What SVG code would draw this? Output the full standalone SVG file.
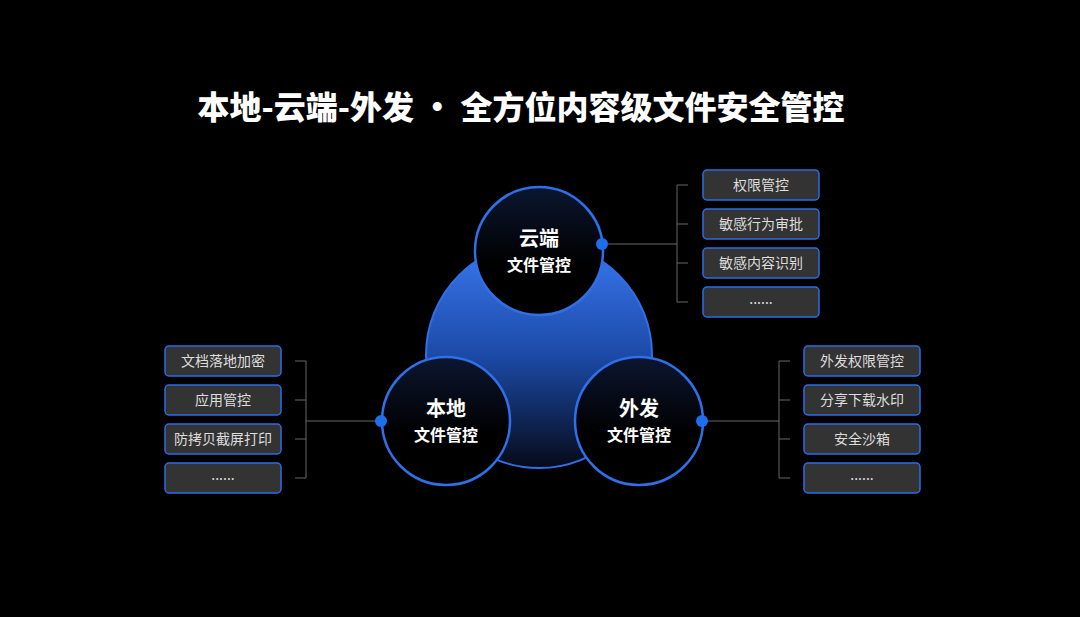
<svg xmlns="http://www.w3.org/2000/svg" width="1080" height="617" viewBox="0 0 1080 617">
<defs>
<linearGradient id="g" x1="0" y1="0" x2="0" y2="1"><stop offset="0" stop-color="#3a78f0"/><stop offset="0.5" stop-color="#1c4aa8"/><stop offset="1" stop-color="#060a18"/></linearGradient>
<linearGradient id="c" x1="0" y1="0" x2="0" y2="1"><stop offset="0" stop-color="#0b1630"/><stop offset="0.6" stop-color="#000"/><stop offset="1" stop-color="#000"/></linearGradient>
<style>
.t{font-family:"Noto Sans CJK SC","Noto Sans",sans-serif;fill:#fff;text-anchor:middle}
.b rect{fill:#333;stroke:#2a6ee8;stroke-width:1.5}
.b text{font-family:"Noto Sans CJK SC","Noto Sans",sans-serif;fill:#ddd;font-size:14px;text-anchor:middle}
.ln{stroke:#666;stroke-width:1;fill:none}
.n circle.o{fill:url(#c);stroke:#2f6fe8;stroke-width:2.5}
.d{fill:#1e6ff0}
</style>
</defs>
<rect width="1080" height="617" fill="#000"/>
<text x="521" y="119" class="t" font-size="32" font-weight="900">本地-云端-外发 · 全方位内容级文件安全管控</text>
<circle cx="539" cy="355" r="113" fill="url(#g)" stroke="#2f6fe8" stroke-width="2"/>
<g id="connectors">
<path class="ln" d="M602 244H677M688 185H677V302H688M677 224H688M677 263H688"/>
<path class="ln" d="M702 421H779M790 361H779V478H790M779 400H790M779 439H790"/>
<path class="ln" d="M381 421H306M295 361H306V478H295M306 400H295M306 439H295"/>
</g>
<g id="cloud" class="n"><circle class="o" cx="539" cy="251" r="64"/><text class="t" x="539" y="246" font-size="20" font-weight="bold">云端</text><text class="t" x="539" y="271" font-size="16" font-weight="bold">文件管控</text><circle class="d" cx="602" cy="244" r="6"/></g>
<g id="local" class="n"><circle class="o" cx="446" cy="421" r="64"/><text class="t" x="446" y="416" font-size="20" font-weight="bold">本地</text><text class="t" x="446" y="441" font-size="16" font-weight="bold">文件管控</text><circle class="d" cx="381" cy="421" r="6"/></g>
<g id="out" class="n"><circle class="o" cx="639" cy="421" r="64"/><text class="t" x="639" y="416" font-size="20" font-weight="bold">外发</text><text class="t" x="639" y="441" font-size="16" font-weight="bold">文件管控</text><circle class="d" cx="702" cy="421" r="6"/></g>
<g class="b">
<g id="r1"><rect x="703" y="170" width="116" height="30" rx="4"/><text x="761" y="190">权限管控</text></g>
<g id="r2"><rect x="703" y="209" width="116" height="30" rx="4"/><text x="761" y="229">敏感行为审批</text></g>
<g id="r3"><rect x="703" y="248" width="116" height="30" rx="4"/><text x="761" y="268">敏感内容识别</text></g>
<g id="r4"><rect x="703" y="287" width="116" height="30" rx="4"/><text x="761" y="304">......</text></g>
<g id="o1"><rect x="804" y="346" width="116" height="30" rx="4"/><text x="862" y="366">外发权限管控</text></g>
<g id="o2"><rect x="804" y="385" width="116" height="30" rx="4"/><text x="862" y="405">分享下载水印</text></g>
<g id="o3"><rect x="804" y="424" width="116" height="30" rx="4"/><text x="862" y="444">安全沙箱</text></g>
<g id="o4"><rect x="804" y="463" width="116" height="30" rx="4"/><text x="862" y="480">......</text></g>
<g id="l1"><rect x="165" y="346" width="116" height="30" rx="4"/><text x="223" y="366">文档落地加密</text></g>
<g id="l2"><rect x="165" y="385" width="116" height="30" rx="4"/><text x="223" y="405">应用管控</text></g>
<g id="l3"><rect x="165" y="424" width="116" height="30" rx="4"/><text x="223" y="444">防拷贝截屏打印</text></g>
<g id="l4"><rect x="165" y="463" width="116" height="30" rx="4"/><text x="223" y="480">......</text></g>
</g>
</svg>
